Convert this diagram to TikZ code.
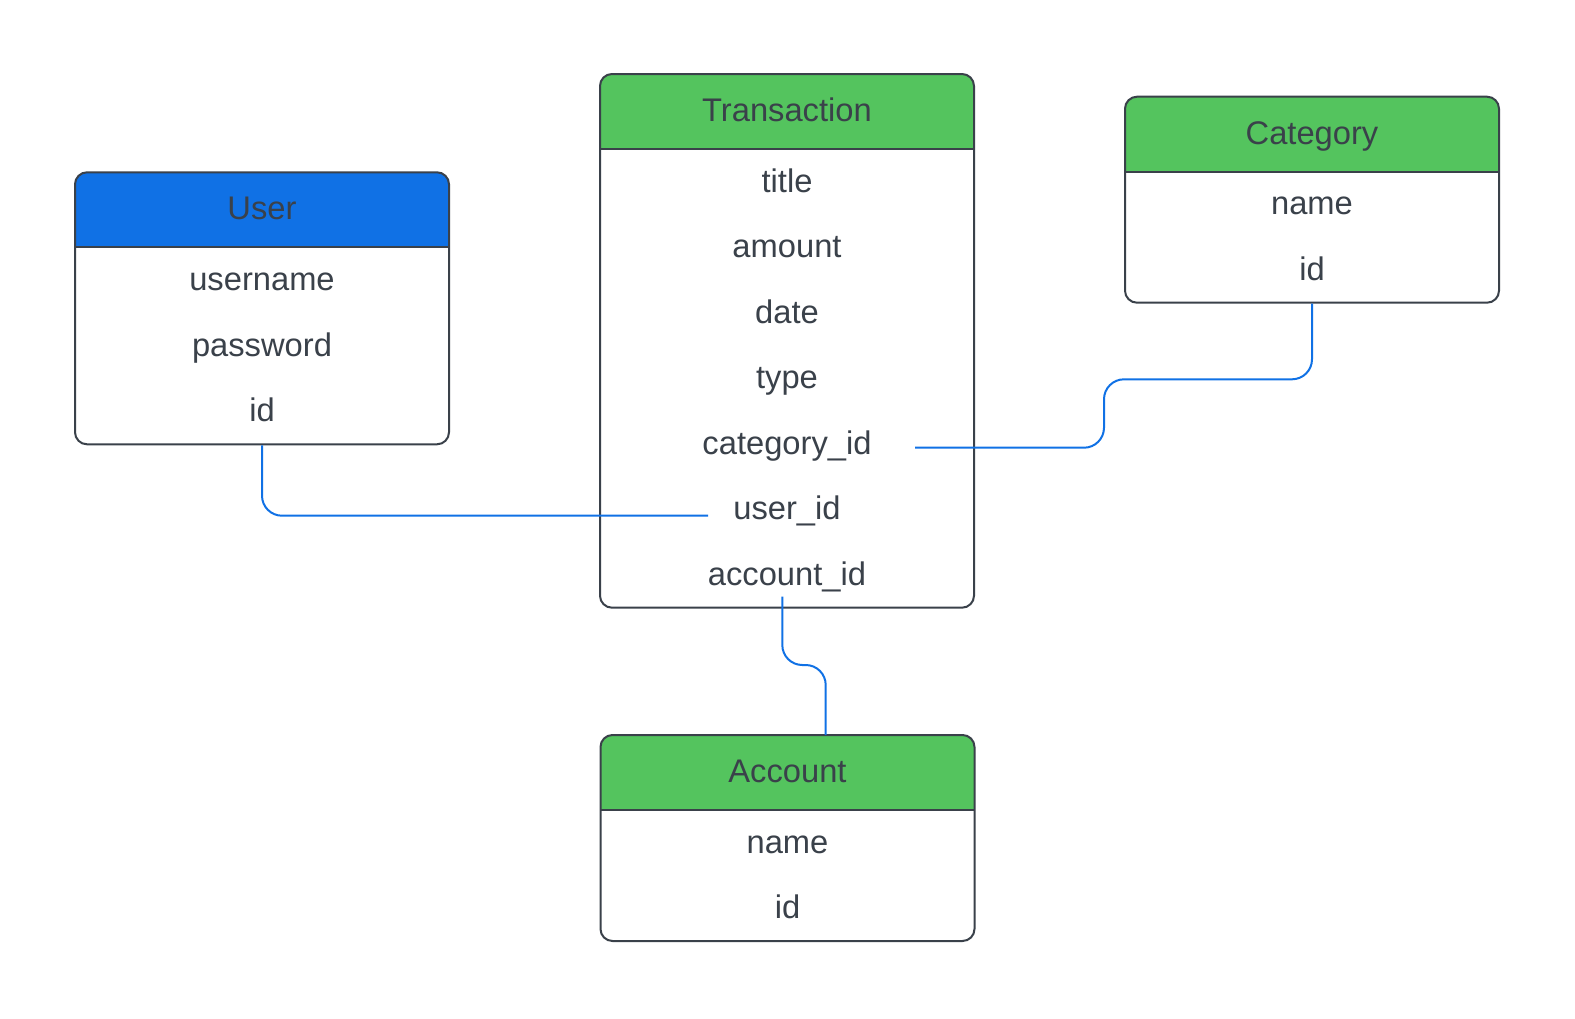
\documentclass[tikz,border=0pt]{standalone}
\usepackage{fontspec}
\setmainfont{Liberation Sans}
\definecolor{bordercol}{HTML}{3A414A}
\definecolor{textcol}{HTML}{3A414A}
\definecolor{hdrblue}{HTML}{1071E5}
\definecolor{hdrgreen}{HTML}{54C45E}
\definecolor{linkcol}{HTML}{1071E5}
\tikzset{
  erbox/.style={draw=bordercol, line width=2pt, rounded corners=12pt, minimum width=374pt, inner sep=0pt, fill=white,
    path picture={
      \fill[#1, sharp corners] (path picture bounding box.north west) rectangle ([yshift=-75pt]path picture bounding box.north east);
      \draw[bordercol, line width=2pt, sharp corners] ([yshift=-75pt]path picture bounding box.north west) -- ([yshift=-75pt]path picture bounding box.north east);
    }},
  lbl/.style={anchor=base, inner sep=0pt, text=textcol, font=\fontsize{32.7pt}{40pt}\selectfont},
  link/.style={draw=linkcol, line width=2pt, rounded corners=20pt}
}
\begin{document}
\begin{tikzpicture}[x=1pt, y=-1pt]
\useasboundingbox (0,0) rectangle (1575,1018);

% User
\node[erbox=hdrblue, minimum height=272pt] (user) at (262,308.3) {};
\node[lbl] (userH) at (262,219.8) {User};
\node[lbl] (uname) at (262,290.5) {username};
\node[lbl] (upass) at (262,356) {password};
\node[lbl] (uid) at (262,421.5) {id};

% Transaction
\node[erbox=hdrgreen, minimum height=533.7pt] (trans) at (787,340.85) {};
\node[lbl] (transH) at (787,121.8) {Transaction};
\node[lbl] (ttitle) at (787,192.2) {title};
\node[lbl] (tamount) at (787,257.7) {amount};
\node[lbl] (tdate) at (787,323.2) {date};
\node[lbl] (ttype) at (787,388.7) {type};
\node[lbl] (tcat) at (787,454.2) {category\_id};
\node[lbl] (tuser) at (787,519.7) {user\_id};
\node[lbl] (tacc) at (787,585.2) {account\_id};

% Category
\node[erbox=hdrgreen, minimum height=206pt] (cat) at (1312,199.7) {};
\node[lbl] (catH) at (1312,144.5) {Category};
\node[lbl] (cname) at (1312,214.9) {name};
\node[lbl] (cid) at (1312,280.4) {id};

% Account
\node[erbox=hdrgreen, minimum height=206pt] (acc) at (787.5,838) {};
\node[lbl] (accH) at (787.5,782.3) {Account};
\node[lbl] (aname) at (787.5,853.2) {name};
\node[lbl] (aid) at (787.5,918.7) {id};

% connector end points
\coordinate (uidEnd) at (708,515.7);
\coordinate (catStart) at (915,447.7);
\coordinate (accStart) at (782.3,596.7);

% connectors
\draw[link] (user.south) -- (262,515.7) -- (uidEnd);
\draw[link] (catStart) -- (1104,447.7) -- (1104,379.3) -- (1312,379.3) -- (cat.south);
\draw[link] (accStart) -- (782.3,665) -- (825.7,665) -- (825.7,735) coordinate (accTop);
\end{tikzpicture}
\end{document}
